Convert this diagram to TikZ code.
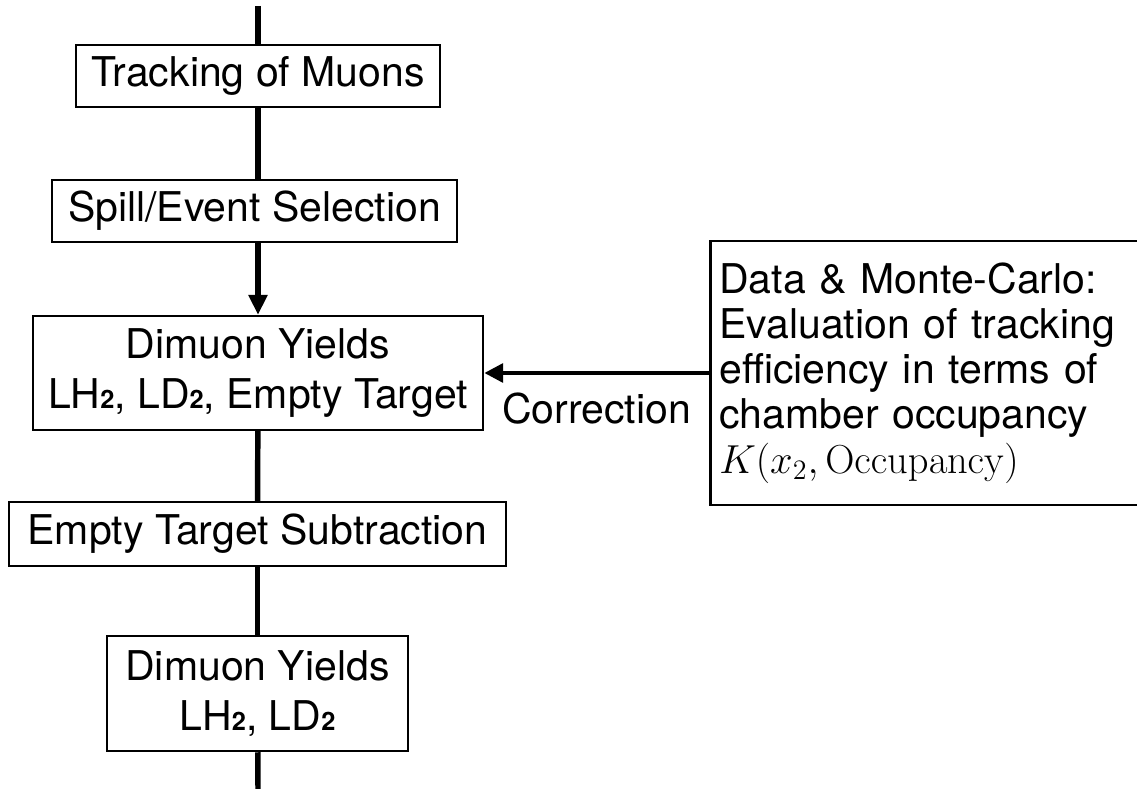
\documentclass[tikz,border=0pt]{standalone}
\usepackage[no-math]{fontspec}
\setmainfont{TeX Gyre Heros}
\usepackage{tikz}
\usetikzlibrary{arrows.meta, positioning}
\newcommand{\tsub}[1]{{\fontsize{13}{13}\selectfont\bfseries #1}}
\tikzset{
  stage/.style={draw, line width=1.3pt, align=center, inner sep=0pt,
                font=\fontsize{21}{25.5}\selectfont},
  flow/.style={line width=2.8pt},
  flowarrow/.style={-{Triangle[length=0.36cm, width=0.33cm]}, line width=2.8pt},
  corrarrow/.style={-{Triangle[length=0.34cm, width=0.33cm]}, line width=2.5pt},
  notebox/.style={draw, line width=1.3pt, align=left, inner xsep=0.162cm,
                  inner ysep=0pt, text width=9cm, minimum height=4.75cm,
                  font=\fontsize{21}{23}\selectfont}
}
\begin{document}
\begin{tikzpicture}[x=0.018cm, y=-0.018cm]
  \useasboundingbox (0,0) rectangle (1137,789);
  \clip (0,0) rectangle (1137,789);

  % chain of stages
  \node[stage, minimum width=6.55cm, minimum height=1.12cm] (track) at (258,76)
    {Tracking of Muons};
  \node[stage, minimum width=7.29cm, minimum height=1.12cm] (spill) at (254.5,211)
    {Spill/Event Selection};
  \node[stage, minimum width=8.1cm, minimum height=2.05cm] (dimuall) at (258,373)
    {Dimuon Yields\\LH\tsub{2}, LD\tsub{2}, Empty Target};
  \node[stage, minimum width=8.95cm, minimum height=1.15cm] (subtr) at (257.5,534)
    {Empty Target Subtraction};
  \node[stage, minimum width=5.42cm, minimum height=2.07cm] (dimufin) at (257.5,693.5)
    {Dimuon Yields\\LH\tsub{2}, LD\tsub{2}};

  % tracking efficiency (runs past the right edge)
  \node[notebox, anchor=west] (effic) at (709,373)
    {Data \& Monte-Carlo:\\Evaluation of tracking\\efficiency in terms of\\chamber occupancy\\$\displaystyle K(x_2,\mathrm{Occupancy})$};

  \coordinate (start) at (258,6);
  \coordinate (finish) at (258,789);

  % connectors
  \draw[flow] (start) -- (track);
  \draw[flow] (track) -- (track |- spill.north);
  \draw[flowarrow] (track |- spill.south) -- (dimuall.north);
  \draw[flow] (dimuall) -- (subtr);
  \draw[flow] (subtr) -- (dimufin);
  \draw[flow] (dimufin) -- (finish);
  \draw[corrarrow] (effic.west) -- (dimuall)
    node[midway, below=0.2cm, font=\fontsize{21}{25.5}\selectfont] {Correction};
\end{tikzpicture}
\end{document}
